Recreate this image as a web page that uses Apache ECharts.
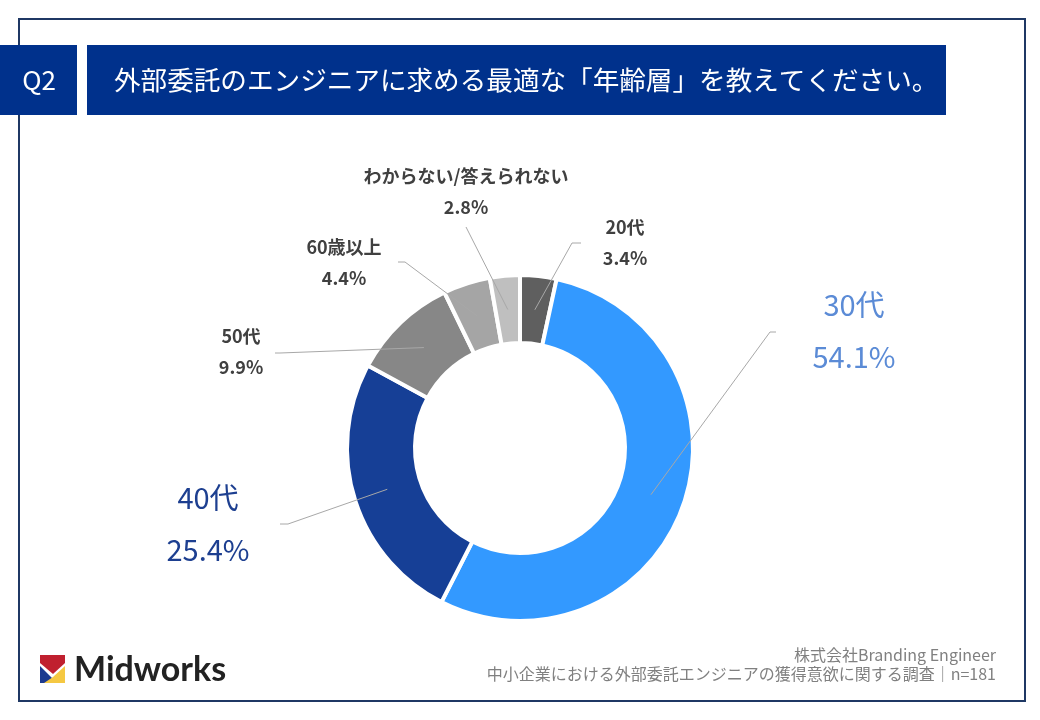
<!DOCTYPE html>
<html>
<head>
<meta charset="utf-8">
<script src="https://cdn.jsdelivr.net/npm/echarts@6/dist/echarts.min.js"></script>
<style>
html,body{margin:0;padding:0;background:#fff;}
#c{width:1040px;height:720px;}
</style>
</head>
<body>
<div id="c"></div>
<script>
// ---- data ----
var categories = ['20代', '30代', '40代', '50代', '60歳以上', 'わからない/答えられない'];
var values = [3.4, 54.1, 25.4, 9.9, 4.4, 2.8];
var sliceColors = ['#5f5f5f', '#3399ff', '#163f96', '#878787', '#a5a5a5', '#bfbfbf'];
var bigLabels = ['30代', '40代'];
var bigLabelColors = {'30代': '#5b8bd6', '40代': '#1d3f90'};
var titleText = '外部委託のエンジニアに求める最適な「年齢層」を教えてください。';
var qText = 'Q2';
var footer1 = '株式会社Branding Engineer';
var footer2 = '中小企業における外部委託エンジニアの獲得意欲に関する調査｜n=181';

// ---- layout (label anchors, not data) ----
var labelSpots = [
  {x: 625, y: 243, bend: [572, 243], end: [581, 243]},
  {x: 854, y: 331, bend: [770, 332], end: [776, 332]},
  {x: 208, y: 524, bend: [288, 524], end: [280, 524]},
  {x: 241, y: 352, bend: [280, 353], end: [275, 353]},
  {x: 344, y: 263, bend: [405, 262], end: [398, 262]},
  {x: 466, y: 192, bend: [466, 227], end: [466, 227]}
];

var FONT = '"Noto Sans CJK JP", "Noto Sans", sans-serif';
var chart = echarts.init(document.getElementById('c'));

var ringData = categories.map(function (n, i) {
  return {name: n, value: values[i], itemStyle: {color: sliceColors[i]}};
});
var labelData = categories.map(function (n, i) {
  var item = {name: n, value: values[i]};
  if (bigLabels.indexOf(n) >= 0) item.label = {color: bigLabelColors[n]};
  return item;
});

var option = {
  backgroundColor: '#ffffff',
  animation: false,
  graphic: [
    {type: 'rect', shape: {x: 19, y: 19, width: 1006, height: 682},
     style: {fill: 'none', stroke: '#1f3864', lineWidth: 2}, z: 1},
    {type: 'rect', shape: {x: 0, y: 45, width: 77, height: 70}, style: {fill: '#00318c'}, z: 2},
    {type: 'rect', shape: {x: 87, y: 45, width: 859, height: 70}, style: {fill: '#00318c'}, z: 2},
    {type: 'text', x: 39, y: 80, z: 3,
     style: {text: qText, fill: '#ffffff', font: '26px ' + FONT, align: 'center', verticalAlign: 'middle'}},
    {type: 'text', x: 114, y: 80, z: 3,
     style: {text: titleText, fill: '#ffffff', font: '26.6px ' + FONT, align: 'left', verticalAlign: 'middle'}},
    // logo mark
    {type: 'polygon', z: 3, shape: {points: [[40,655],[65,655],[65,663],[53,674],[40,663]]}, style: {fill: '#c0202f'}},
    {type: 'polygon', z: 3, shape: {points: [[40,666],[52,678],[49,683],[40,683]]}, style: {fill: '#1d3a8f'}},
    {type: 'polygon', z: 3, shape: {points: [[65,666],[65,683],[44,683],[53,677]]}, style: {fill: '#f5c842'}},
    {type: 'text', x: 74, y: 670, z: 3,
     style: {text: 'Midworks', fill: '#222222', font: 'bold 34px Lato, sans-serif', align: 'left', verticalAlign: 'middle'}},
    {type: 'text', x: 996, y: 655, z: 3,
     style: {text: footer1, fill: '#808080', font: '16px ' + FONT, align: 'right', verticalAlign: 'middle'}},
    {type: 'text', x: 996, y: 674, z: 3,
     style: {text: footer2, fill: '#808080', font: '16px ' + FONT, align: 'right', verticalAlign: 'middle'}}
  ],
  series: [
    {
      type: 'pie',
      z: 2,
      center: [520, 448],
      radius: [105, 173],
      startAngle: 90,
      clockwise: true,
      silent: true,
      label: {show: false},
      labelLine: {show: false},
      itemStyle: {borderColor: '#ffffff', borderWidth: 4},
      emphasis: {disabled: true},
      data: ringData
    },
    {
      type: 'pie',
      z: 4,
      center: [520, 448],
      radius: [0, 139],
      startAngle: 90,
      clockwise: true,
      silent: true,
      avoidLabelOverlap: false,
      itemStyle: {color: 'rgba(0,0,0,0)', borderWidth: 0},
      emphasis: {disabled: true},
      label: {
        show: true,
        position: 'outside',
        fontFamily: FONT,
        formatter: function (p) {
          var big = bigLabels.indexOf(p.name) >= 0;
          var k = big ? 'B' : 's';
          return '{' + k + '|' + p.name + '}\n{' + k + '|' + p.value.toFixed(1) + '%}';
        },
        rich: {
          s: {fontSize: 18, fontWeight: 'bold', color: '#404040', lineHeight: 31, fontFamily: FONT, align: 'center'},
          B: {fontSize: 29, lineHeight: 52, fontFamily: FONT, align: 'center'}
        }
      },
      labelLine: {show: true, length: 20, length2: 10, smooth: false,
        lineStyle: {color: '#a8a8a8', width: 1}},
      labelLayout: function (p) {
        var s = labelSpots[p.dataIndex];
        var st = (p.labelLinePoints && p.labelLinePoints[0]) ? [p.labelLinePoints[0][0], p.labelLinePoints[0][1]] : s.bend;
        return {x: s.x, y: s.y, align: 'center', verticalAlign: 'middle',
          labelLinePoints: [st, s.bend, s.end]};
      },
      data: labelData
    }
  ]
};
chart.setOption(option);
</script>
</body>
</html>
